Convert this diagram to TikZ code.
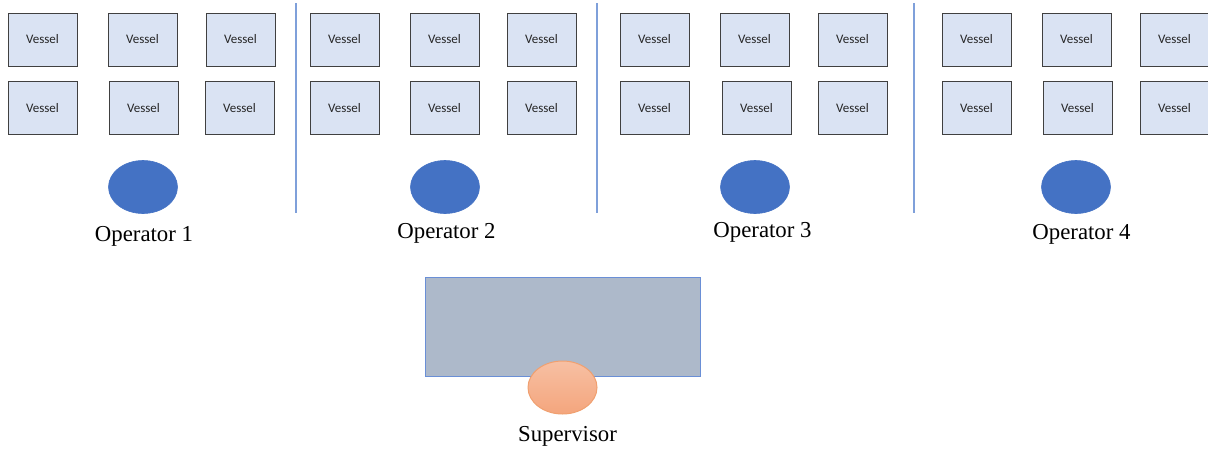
\documentclass[tikz,border=0pt]{standalone}
\usepackage{fontspec}
\setmainfont{Liberation Serif}
\newfontfamily\vesselfont{Carlito}
\usetikzlibrary{shapes.geometric}
\definecolor{vesselfill}{HTML}{DAE3F3}
\definecolor{vesseledge}{HTML}{404040}
\definecolor{opblue}{HTML}{4472C4}
\definecolor{divblue}{HTML}{7FA0DA}
\definecolor{deskfill}{HTML}{ADB9CA}
\definecolor{deskedge}{HTML}{6A8FD6}
\definecolor{suptop}{HTML}{F7C0A3}
\definecolor{supbot}{HTML}{F4A57D}
\definecolor{supedge}{HTML}{F0A070}
\tikzset{
  vessel/.style={draw=vesseledge, line width=1pt, fill=vesselfill,
    minimum width=69pt, minimum height=53pt, inner sep=0pt,
    font=\vesselfont\fontsize{13}{15}\selectfont, text=black!85},
  operator/.style={ellipse, fill=opblue, draw=opblue, line width=0.6pt,
    minimum width=69pt, minimum height=53pt, inner sep=0pt},
  oplabel/.style={anchor=base, inner sep=0pt, font=\fontsize{22.8}{26}\selectfont},
  divider/.style={draw=divblue, line width=1.3pt},
  desk/.style={draw=deskedge, line width=1pt, fill=deskfill},
  supervisor/.style={ellipse, draw=supedge, line width=1pt,
    top color=suptop, bottom color=supbot,
    minimum width=69pt, minimum height=53pt, inner sep=0pt}
}
\begin{document}
\begin{tikzpicture}[x=1pt, y=-1pt]
\useasboundingbox[fill=white] (0,0) rectangle (1208,448);

% vessel grid, two rows per operator area
\foreach \n/\x/\y in {
  a1/42.5/39.5, a2/142.5/39.5, a3/240.5/39.5,
  a4/42.5/108, a5/143.5/108, a6/239.5/108,
  b1/344.5/39.5, b2/444.5/39.5, b3/541.5/39.5,
  b4/344.5/108, b5/444.5/108, b6/541.5/108,
  c1/654.5/39.5, c2/754.5/39.5, c3/852.5/39.5,
  c4/654.5/108, c5/756.5/108, c6/852.5/108,
  d1/976.5/39.5, d2/1076.5/39.5, d3/1174.5/39.5,
  d4/976.5/108, d5/1077.5/108, d6/1174.5/108}
  \node[vessel] (v\n) at (\x,\y) {Vessel};

% operators
\node[operator] (op1) at (143,187) {};
\node[operator] (op2) at (445,187) {};
\node[operator] (op3) at (755,187) {};
\node[operator] (op4) at (1076,187) {};
\node[oplabel] (l1) at (144,241) {Operator 1};
\node[oplabel] (l2) at (446.5,238) {Operator 2};
\node[oplabel] (l3) at (762.5,237) {Operator 3};
\node[oplabel] (l4) at (1081.5,239.5) {Operator 4};

% area dividers
\coordinate (s1t) at (296,3);   \coordinate (s1b) at (296,213);
\coordinate (s2t) at (597,3);   \coordinate (s2b) at (597,213);
\coordinate (s3t) at (914,3);   \coordinate (s3b) at (914,213);
\draw[divider] (s1t) -- (s1b);
\draw[divider] (s2t) -- (s2b);
\draw[divider] (s3t) -- (s3b);

% supervisor desk
\draw[desk] (425,277) rectangle (700,376);
\node[supervisor] (sup) at (562.5,387.5) {};
\node[oplabel] (ls) at (567.5,441) {Supervisor};
\end{tikzpicture}
\end{document}
